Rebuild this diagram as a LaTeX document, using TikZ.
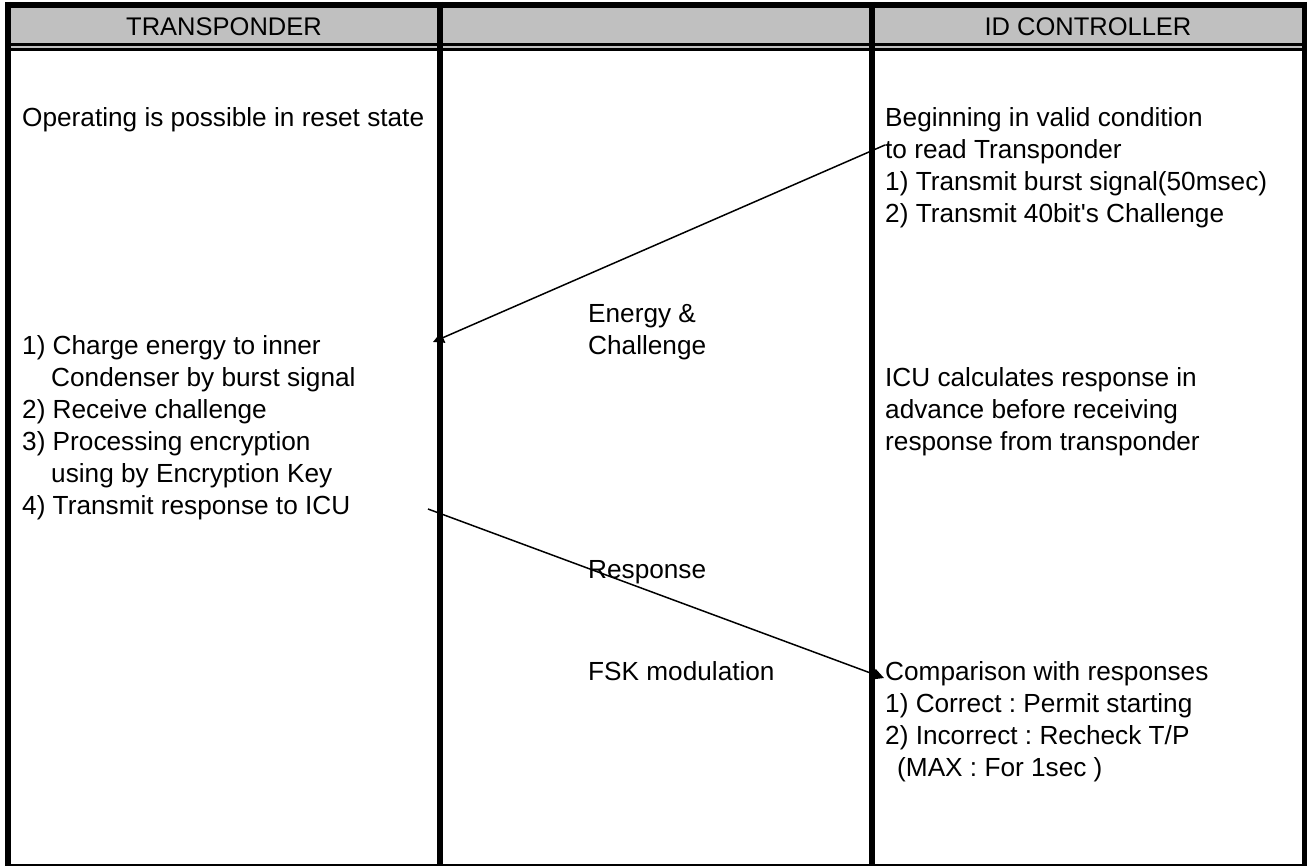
\documentclass[tikz,border=0pt]{standalone}
\usepackage{fontspec}
\setmainfont{Liberation Sans}
\newfontfamily\plainsans{Liberation Sans}[Ligatures=TeXOff]
\usetikzlibrary{arrows.meta}
\definecolor{hdrgray}{RGB}{192,192,192}
\frenchspacing
\begin{document}
\frenchspacing
\begin{tikzpicture}[x=1pt,y=-1pt,
  txt/.style={anchor=base west,inner sep=0pt,font=\fontsize{26.2}{31}\selectfont\frenchspacing},
  hdr/.style={anchor=base,inner sep=0pt,font=\fontsize{25.5}{30}\selectfont},
  conn/.style={line width=1.5pt,-{Triangle[length=11pt,width=11pt]}}]
\useasboundingbox (0,0) rectangle (1307,867);
\fill[white] (0,0) rectangle (1307,867);
% header
\fill[hdrgray] (11,8) rectangle (1302,48.5);
\draw[line width=3pt] (11,45) -- (1302,45);
\draw[line width=3pt] (11,50) -- (1302,50);
% frame
\draw[line width=6pt] (5,5) -- (1307,5);
\draw[line width=6pt] (8,2) -- (8,866);
\draw[line width=5pt] (1304.5,2) -- (1304.5,866);
\draw[line width=1.5pt] (5,865) -- (1307,865);
\draw[line width=6pt] (440,2) -- (440,866);
\draw[line width=6pt] (872,2) -- (872,866);
% header texts
\node[hdr] (hT) at (224,35.1) {TRANSPONDER};
\node[hdr] (hI) at (1088,35.1) {ID CONTROLLER};
% left column
\node[txt] (l0) at (22,126) {Operating is possible in reset state};
\node[txt] (l1) at (22,354) {1) Charge energy to inner};
\node[txt] (l2) at (22,386) {\hspace*{29pt}Condenser by burst signal};
\node[txt] (l3) at (22,418) {2) Receive challenge};
\node[txt] (l4) at (22,450) {3) Processing encryption};
\node[txt] (l5) at (22,482) {\hspace*{29pt}using by Encryption Key};
\node[txt] (l6) at (22,514) {4) Transmit response to ICU};
% middle column
\node[txt] (m1) at (588,322) {Energy \&};
\node[txt] (m2) at (588,354) {Challenge};
\node[txt] (m3) at (588,578) {Response};
\node[txt] (m4) at (588,680) {FSK modulation};
% right column
\node[txt] (r1) at (885,126) {Beginning in valid condition};
\node[txt] (r2) at (885,158) {to read Transponder};
\node[txt] (r3) at (885,190) {1) Transmit burst signal(50msec)};
\node[txt] (r4) at (885,222) {2) Transmit 40bit{\plainsans\fontsize{26.2}{31}\selectfont '}s Challenge};
\node[txt] (r5) at (885,386) {ICU calculates response in};
\node[txt] (r6) at (885,418) {advance before receiving};
\node[txt] (r7) at (885,450) {response from transponder};
\node[txt] (r8) at (885,680) {Comparison with responses};
\node[txt] (r9) at (885,712) {1) Correct : Permit starting};
\node[txt] (r10) at (885,744) {2) Incorrect : Recheck T/P};
\node[txt] (r11) at (885,776) {\hspace*{12pt}(MAX : For 1sec )};
% connectors
\coordinate (a1s) at (885,145);
\coordinate (a1e) at (433,342);
\coordinate (a2s) at (428,509);
\coordinate (a2e) at (884,678);
\draw[conn] (a1s) -- (a1e);
\draw[conn] (a2s) -- (a2e);
\end{tikzpicture}
\end{document}
